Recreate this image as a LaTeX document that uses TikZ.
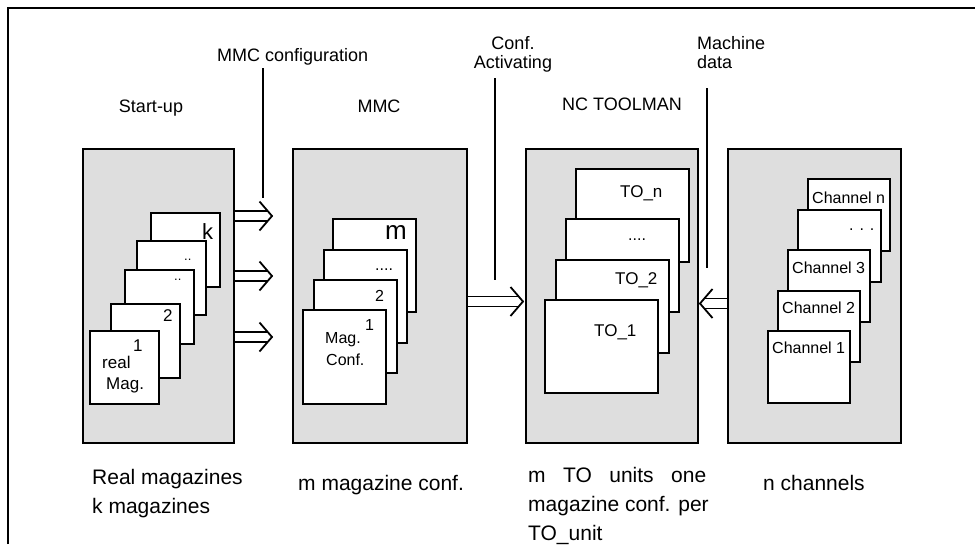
\documentclass[tikz,border=0pt]{standalone}
\usepackage{fontspec}
\setmainfont{Liberation Sans}
\usetikzlibrary{calc}
\definecolor{panelgray}{HTML}{DEDEDE}
\tikzset{
  sz/.style 2 args={minimum width=#1pt, minimum height=#2pt},
  panel/.style={draw=black, line width=1.6pt, fill=panelgray, inner sep=0pt, anchor=north west},
  card/.style={draw=black, line width=1.8pt, fill=white, inner sep=0pt, anchor=north west},
  txt/.style 2 args={font=\fontsize{#1}{#2}\selectfont, inner sep=0pt, anchor=base west},
  ctxt/.style 2 args={font=\fontsize{#1}{#2}\selectfont, inner sep=0pt, anchor=base, align=center},
  feed/.style={draw=black, line width=1.8pt},
  dbl/.style={draw=black, double=white, double distance=8.3pt, line width=1.7pt},
  chev/.style={draw=black, line width=1.8pt, line join=miter},
}
% open double arrow: shaft from #1 to #2, barbed head at #2 pointing along the shaft
\newcommand\dblarrowto[3]{% #1 start, #2 tip, #3 = +1 right / -1 left
  \draw[dbl] (#1) -- ($(#2)+(#3*-4,0)$);
  \draw[chev] ($(#2)+(#3*-12.5,-14.5)$) -- (#2) -- ($(#2)+(#3*-12.5,14.5)$);
}
\begin{document}
\begin{tikzpicture}[x=1pt, y=-1pt]
\useasboundingbox (0,0) rectangle (975,544);

% outer frame (top and left edges)
\draw[line width=2pt] (8,544) -- (8,8) -- (975,8);

% the four panels
\node[panel, sz={151}{294}] (b1) at (82,148) {};
\node[panel, sz={174}{294}] (b2) at (292,148) {};
\node[panel, sz={172}{294}] (b3) at (525,148) {};
\node[panel, sz={173}{294}] (b4) at (727,148) {};

% panel titles
\node[ctxt={18}{19}] (tStart) at (151,112) {Start-up};
\node[ctxt={18}{19}] (tMMC) at (379,112) {MMC};
\node[ctxt={18}{19}] (tNC) at (622,110) {NC TOOLMAN};

% real magazines
\node[card, sz={69}{74}] (rk) at (150,212) {};
\node[card, sz={69}{74}] (r4) at (136,240) {};
\node[card, sz={69}{74}] (r3) at (124,269) {};
\node[card, sz={69}{74}] (r2) at (110,303) {};
\node[card, sz={69}{73}] (r1) at (89,330) {};
\node[txt={22}{22}] (lk) at (202,239) {k};
\node[txt={13}{13}] (lr4) at (184,260) {..};
\node[txt={13}{13}] (lr3) at (174,280) {..};
\node[txt={17}{17}] (lr2) at (163,321) {2};
\node[txt={17}{17}] (lr1) at (133,351) {1};
\node[txt={17}{17}] (lreal) at (102,368) {real};
\node[txt={17}{17}] (lmag) at (106,389) {Mag.};

% magazine configurations
\node[card, sz={83}{93}] (mm) at (332,218) {};
\node[card, sz={83}{93}] (m3) at (323,249) {};
\node[card, sz={83}{93}] (m2) at (313,279) {};
\node[card, sz={83}{94}] (m1) at (302,309) {};
\node[txt={26}{26}] (lm) at (385,239) {m};
\node[txt={16}{16}] (lm3) at (375,270) {....};
\node[txt={16}{16}] (lm2) at (375,301) {2};
\node[txt={16}{16}] (lm1) at (365,330) {1};
\node[txt={16}{16}] (lmc1) at (325,343) {Mag.};
\node[txt={16}{16}] (lmc2) at (326,365) {Conf.};

% TO units
\node[card, sz={113}{93}] (tn) at (575,168) {};
\node[card, sz={113}{93}] (t3) at (565,218) {};
\node[card, sz={113}{93}] (t2) at (555,259) {};
\node[card, sz={113}{93}] (t1) at (544,299) {};
\node[txt={17}{17}] (ltn) at (620,197) {TO\_n};
\node[txt={16}{16}] (lt3) at (628,240) {....};
\node[txt={17}{17}] (lt2) at (615,284) {TO\_2};
\node[txt={17}{17}] (lt1) at (594,336) {TO\_1};

% channels
\node[card, sz={82}{72}] (cn) at (807,178) {};
\node[card, sz={83}{72}] (c4) at (797,209) {};
\node[card, sz={82}{72}] (c3) at (787,249) {};
\node[card, sz={82}{71}] (c2) at (777,290) {};
\node[card, sz={82}{72}] (c1) at (767,330) {};
\node[txt={16}{16}] (lcn) at (812,203) {Channel n};
\node[txt={16}{16}] (lc4) at (849,230) {. . .};
\node[txt={16}{16}] (lc3) at (792,273) {Channel 3};
\node[txt={16}{16}] (lc2) at (782,313) {Channel 2};
\node[txt={16}{16}] (lc1) at (772,353) {Channel 1};

% data flow labels and their feed lines (multi-line nodes sit on their last baseline)
\node[txt={18}{19}] (fMMC) at (217,61) {MMC configuration};
\node[ctxt={18}{19}] (fConf) at (513,68) {Conf.\\Activating};
\node[txt={18}{19}, align=left] (fMach) at (697,68) {Machine\\data};
\coordinate (mmcA) at (263,68);  \coordinate (mmcB) at (263,198);
\coordinate (confA) at (495,78); \coordinate (confB) at (495,280);
\coordinate (machA) at (707,88); \coordinate (machB) at (707,268);
\draw[feed] (mmcA) -- (mmcB);
\draw[feed] (confA) -- (confB);
\draw[feed] (machA) -- (machB);

% transfer arrows
\coordinate (p1) at (272,216);
\coordinate (p2) at (272,276);
\coordinate (p3) at (272,337);
\coordinate (p4) at (523,301.5);
\coordinate (p5) at (700,303.5);
\coordinate (s1) at (p1 -| b1.east);
\coordinate (s2) at (p2 -| b1.east);
\coordinate (s3) at (p3 -| b1.east);
\coordinate (s4) at (p4 -| b2.east);
\coordinate (s5) at (p5 -| b4.west);
\dblarrowto{s1}{p1}{1}
\dblarrowto{s2}{p2}{1}
\dblarrowto{s3}{p3}{1}
\dblarrowto{s4}{p4}{1}
\dblarrowto{s5}{p5}{-1}

% captions
\node[txt={21}{29}, align=left] (capA) at (92,513) {Real magazines\\k magazines};
\node[txt={21}{29}] (capB) at (298,490) {m magazine conf.};
\node[txt={21}{29}, align=left] (capC) at (528,540)
  {\makebox[178pt][s]{m TO units one}\\magazine conf. per\\TO\_unit};
\node[txt={21}{29}] (capD) at (763,490) {n channels};
\end{tikzpicture}
\end{document}
